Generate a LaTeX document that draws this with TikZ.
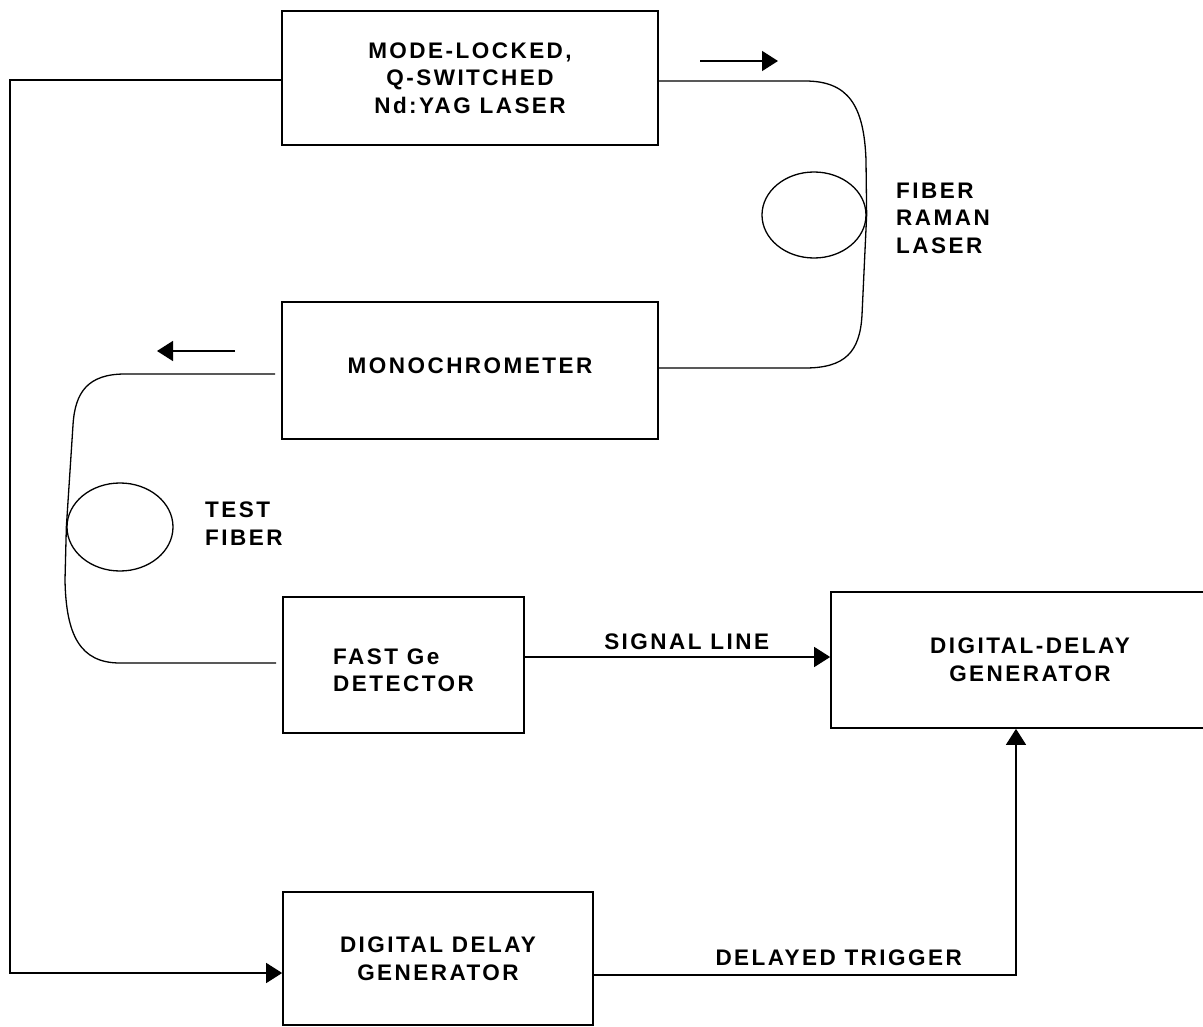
\documentclass[tikz,border=0pt]{standalone}
\usepackage{fontspec}
\setmainfont{Liberation Sans}[LetterSpace=11]
\usetikzlibrary{arrows.meta,shapes.geometric,calc}
\newcommand{\lblfont}{\fontsize{22.5}{27.5}\selectfont\bfseries}
\begin{document}
\begin{tikzpicture}[x=1pt,y=-1pt,
  box/.style={draw,line width=1.7pt,inner sep=0pt,align=center,font=\lblfont},
  lbl/.style={inner sep=0pt,font=\lblfont},
  coil/.style={draw,ellipse,line width=1.3pt,inner sep=0pt},
  fiber/.style={line width=1.3pt},
  conn/.style={line width=1.5pt},
  tip/.style={-{Triangle[length=16pt,width=20pt]}}]
\useasboundingbox (0,0) rectangle (1203,1027);
\clip (0,0) rectangle (1203,1027);

% boxes
\node[box,minimum width=376pt,minimum height=134pt] (laser) at (470,78) {MODE-LOCKED,\\Q-SWITCHED\\Nd:YAG LASER};
\node[box,minimum width=376pt,minimum height=137pt,text depth=10pt] (mono) at (470,370.5) {MONOCHROMETER};
\node[box,minimum width=241pt,minimum height=136pt] (det) at (403.5,665) {};
\node[lbl,align=left] (dettxt) at ($(det.center)+(0,5.5)$) {FAST Ge\\DETECTOR};
\node[box,minimum width=398pt,minimum height=136pt] (ddg2) at (1030,660) {DIGITAL-DELAY\\GENERATOR};
\node[box,minimum width=310pt,minimum height=133pt] (ddg1) at (438,958.5) {DIGITAL DELAY\\GENERATOR};

% coils
\node[coil,minimum width=104pt,minimum height=86pt] (coilR) at (814,215) {};
\node[coil,minimum width=106pt,minimum height=88pt] (coilT) at (120,527) {};

% labels
\node[lbl,anchor=west,align=left] (ramanlbl) at (896,218) {FIBER\\RAMAN\\LASER};
\node[lbl,anchor=west,align=left] (testlbl) at (205,523.5) {TEST\\FIBER};

% fiber raman laser loop
\draw[fiber] ([yshift=-3pt]laser.east) -- (805,81)
  .. controls (848,81) and (864,105) .. (866,160) -- (coilR.east)
  -- (862,315) .. controls (860,352) and (845,368) .. (805,368)
  -- ([yshift=2.5pt]mono.east);

% test fiber loop
\draw[fiber] ([xshift=-6pt,yshift=-3.5pt]mono.west) -- (125,374)
  .. controls (88,374) and (75,392) .. (73,425) -- (coilT.west)
  -- (65,580) .. controls (66,635) and (80,663) .. (120,663)
  -- ([xshift=-6pt,yshift=2pt]det.west);

% direction arrows
\coordinate (a1s) at (700,61);
\coordinate (a1e) at (778,61);
\draw[conn,tip] (a1s) -- (a1e);
\coordinate (a2s) at (235,351);
\coordinate (a2e) at (157,351);
\draw[conn,tip] (a2s) -- (a2e);

% signal line
\draw[conn,tip] ([yshift=8pt]det.east) -- ([yshift=8pt]det.east -| ddg2.west)
  node[lbl,pos=0.53,above=6.5pt] (siglbl) {SIGNAL LINE};

% delayed trigger
\draw[conn,tip] ([yshift=-16.5pt]ddg1.east) -| ([xshift=-14pt]ddg2.south)
  node[lbl,pos=0.29,above=9pt] (trglbl) {DELAYED TRIGGER};

% trigger from laser
\coordinate (lc) at (10,973);
\draw[conn,tip] ([yshift=-2pt]laser.west) -| (lc) -- (lc -| ddg1.west);
\end{tikzpicture}
\end{document}
